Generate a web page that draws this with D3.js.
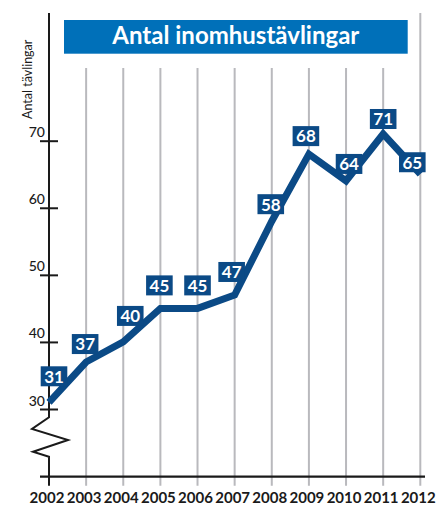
<!DOCTYPE html>
<html>
<head>
<meta charset="utf-8">
<script src="https://cdn.jsdelivr.net/npm/d3@7"></script>
<style>
  body { margin: 0; background: #fff; }
  svg { display: block; font-family: Lato, "Open Sans", sans-serif; }
</style>
</head>
<body>
<div id="chart"></div>
<script>
// data
const years = [2002, 2003, 2004, 2005, 2006, 2007, 2008, 2009, 2010, 2011, 2012];
const counts = [31, 37, 40, 45, 45, 47, 58, 68, 64, 71, 65];
const yTicks = [30, 40, 50, 60, 70];
const title = "Antal inomhustävlingar";
const yTitle = "Antal tävlingar";
// label box nudges (px) relative to each point
const nudgeX = [5, -1, 7, -1, 0, -3, -1, -3, 3, 0, -8];
const nudgeY = [-26, -18, -26, -23, -23, -23, -17, -18, -17, -15, -12];

const svgWidth = 439;
const svgHeight = 505;

const lineBlue = "#0b4a86";
const titleBlue = "#0070b9";

const svg = d3.select("#chart")
  .append("svg")
  .attr("width", svgWidth)
  .attr("height", svgHeight);

const x = d3.scaleLinear()
  .domain([2002, 2012])
  .range([49, 420.3]);

const y = d3.scaleLinear()
  .domain([30, 70])
  .range([409, 140.7]);

const baseY = 476.7;

// grid lines (vertical, one per year except the axis year)
svg.append("g")
  .selectAll("line")
  .data(years.slice(1))
  .enter()
  .append("line")
  .attr("x1", d => x(d))
  .attr("x2", d => x(d))
  .attr("y1", d => d === 2012 ? 13 : 68)
  .attr("y2", baseY + 9)
  .attr("stroke", "#b9b9bd")
  .attr("stroke-width", 2);

// title bar
svg.append("rect")
  .attr("x", 64)
  .attr("y", 20)
  .attr("width", 343.7)
  .attr("height", 33.7)
  .attr("fill", titleBlue);

svg.append("text")
  .attr("x", 64 + 343.7 / 2)
  .attr("y", 44)
  .attr("text-anchor", "middle")
  .attr("fill", "#fff")
  .style("font-size", "24px")
  .style("font-weight", "bold")
  .text(title);

// y axis line with break
const x0 = x(2002);
const breakTop = y(30) + 8.3;
svg.append("path")
  .attr("d", `M${x0},13 L${x0},${breakTop}` +
    ` L${x0 - 17},${breakTop + 11.7} L${x0 + 19},${breakTop + 22.7}` +
    ` L${x0 - 16},${breakTop + 34.4} L${x0},${breakTop + 39.4}` +
    ` L${x0},${baseY + 9}`)
  .attr("fill", "none")
  .attr("stroke", "#1a1a1a")
  .attr("stroke-width", 2);

// y ticks
const yAxis = svg.append("g")
  .call(d3.axisLeft(y).tickValues(yTicks).tickSize(0).tickFormat(d3.format("d")))
  .attr("transform", `translate(${x0},0)`);
yAxis.select(".domain").remove();
yAxis.selectAll(".tick line")
  .attr("x1", -9)
  .attr("x2", 9)
  .attr("stroke", "#1a1a1a")
  .attr("stroke-width", 2);
yAxis.selectAll(".tick text")
  .attr("x", -4)
  .attr("dy", "-4")
  .attr("fill", "#1a1a1a")
  .style("font-family", "Lato, sans-serif")
  .style("font-weight", "500")
  .style("font-size", "14px");

// y title
svg.append("text")
  .attr("transform", `translate(32, 119) rotate(-90)`)
  .attr("text-anchor", "start")
  .attr("fill", "#1a1a1a")
  .style("font-size", "12.5px")
  .text(yTitle);

// x axis
const xAxis = svg.append("g")
  .attr("transform", `translate(0, ${baseY})`)
  .call(d3.axisBottom(x).tickValues(years).tickSize(0).tickFormat(d3.format("d")));
xAxis.select(".domain").remove();
xAxis.selectAll(".tick text")
  .attr("x", -2.5)
  .attr("y", 26.3)
  .attr("dy", 0)
  .attr("fill", "#1a1a1a")
  .style("font-family", "Lato, sans-serif")
  .style("font-weight", "bold")
  .style("font-size", "15px");

svg.append("line")
  .attr("x1", 40)
  .attr("x2", 425)
  .attr("y1", baseY)
  .attr("y2", baseY)
  .attr("stroke", "#1a1a1a")
  .attr("stroke-width", 2.2);

// the line
const line = d3.line()
  .x((d, i) => x(years[i]))
  .y(d => y(d));

svg.append("path")
  .datum(counts)
  .attr("d", line)
  .attr("fill", "none")
  .attr("stroke", lineBlue)
  .attr("stroke-width", 7)
  .attr("stroke-linejoin", "miter");

// value labels
const labels = svg.append("g")
  .selectAll("g")
  .data(counts)
  .enter()
  .append("g")
  .attr("transform", (d, i) => `translate(${x(years[i]) + nudgeX[i]}, ${y(d) + nudgeY[i]})`);

labels.append("rect")
  .attr("x", -13.3)
  .attr("y", -10)
  .attr("width", 26.6)
  .attr("height", 20)
  .attr("fill", lineBlue);

labels.append("text")
  .attr("text-anchor", "middle")
  .attr("y", 6.3)
  .attr("fill", "#fff")
  .style("font-size", "17px")
  .style("font-weight", "bold")
  .text(d => d);
</script>
</body>
</html>
